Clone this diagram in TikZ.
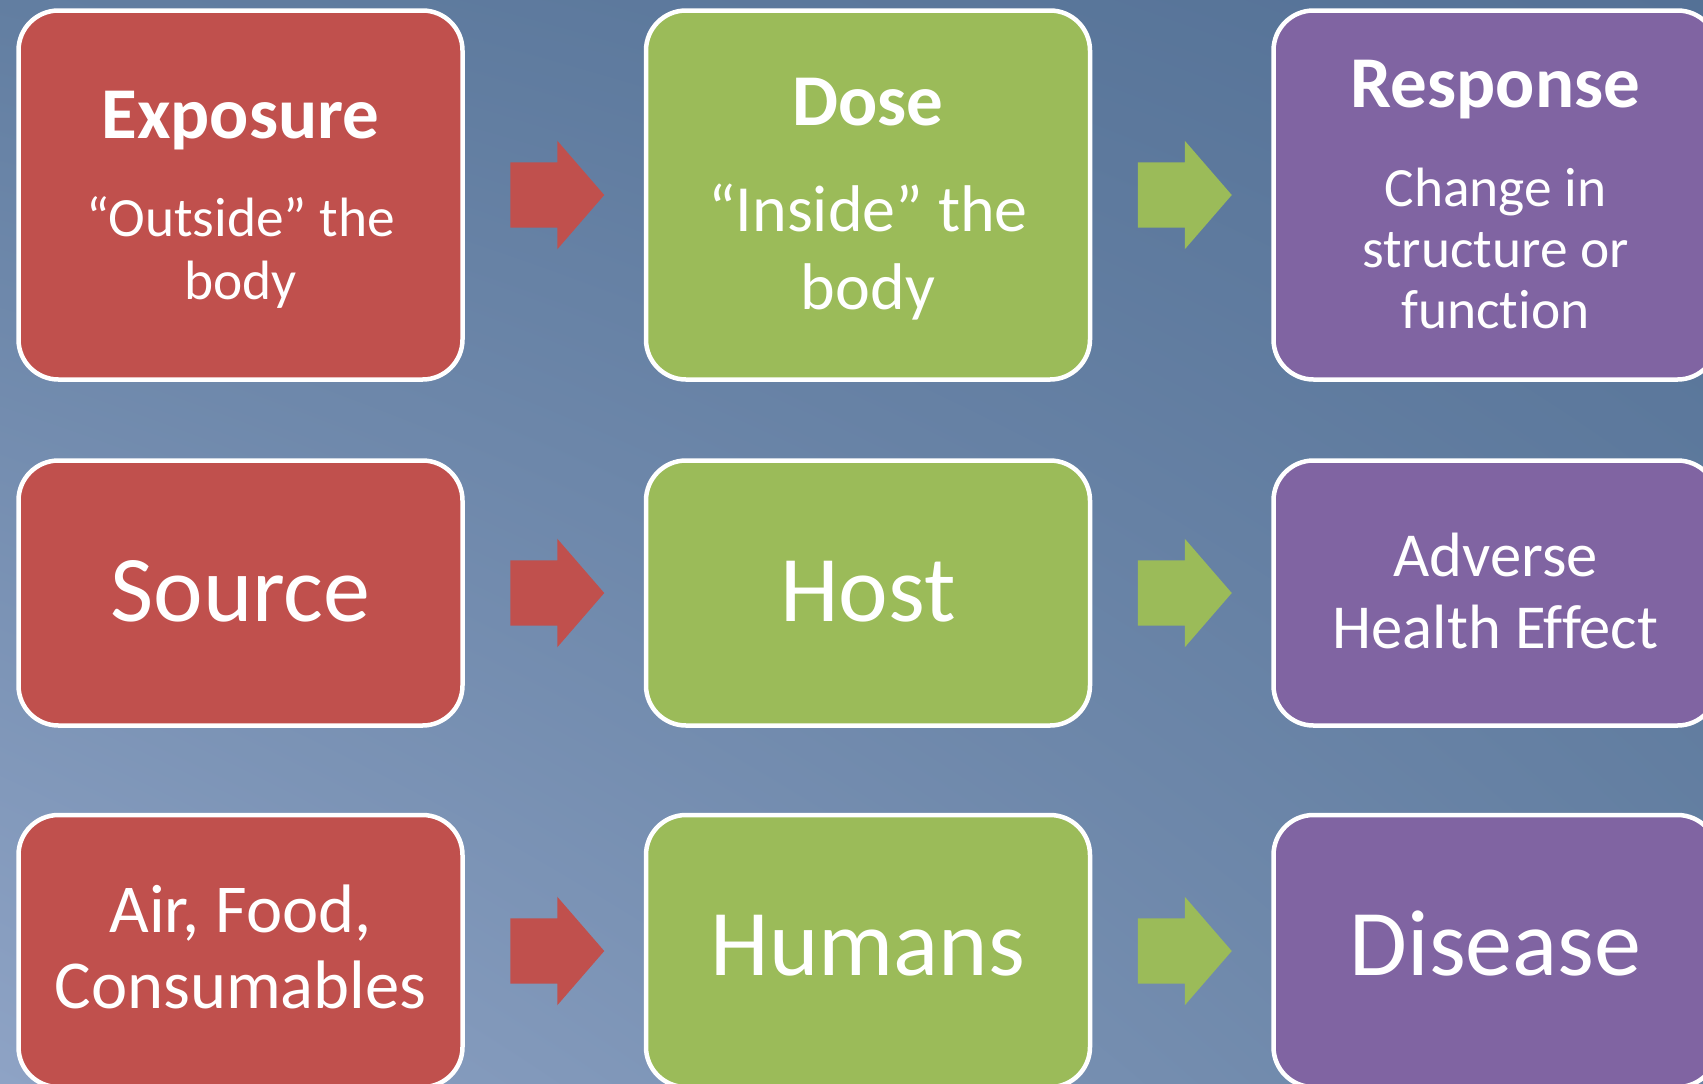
\documentclass[tikz,border=0pt]{standalone}
\usepackage{fontspec}
\setmainfont[Ligatures=NoCommon]{Carlito}
\usetikzlibrary{calc,shadings}
\definecolor{cred}{RGB}{192,80,77}
\definecolor{cgreen}{RGB}{155,187,89}
\definecolor{cpurple}{RGB}{128,100,162}
\definecolor{bgUL}{RGB}{98,126,161}
\definecolor{bgUR}{RGB}{84,113,150}
\definecolor{bgLL}{RGB}{142,163,197}
\definecolor{bgLR}{RGB}{104,131,165}
\newcommand{\fsz}[2]{\fontsize{#1}{#2}\selectfont}
\newcommand{\flowarrow}[3]{%
  \path ($(#1.east)!0.5!(#2.west)$) coordinate (#1-#2-mid);
  \fill[#3, shift={(#1-#2-mid)}] (-44,-32.6) -- (3,-32.6) -- (3,-54.3) -- (50,0)
     -- (3,54.3) -- (3,32.6) -- (-44,32.6) -- cycle;}
\begin{document}
\begin{tikzpicture}[x=0.5pt,y=-0.5pt,
  box/.style={draw=white, line width=2.25pt, rounded corners=20pt,
    minimum width=222pt, inner sep=0pt},
  row1/.style={minimum height=184.5pt},
  row2/.style={minimum height=132.5pt},
  row3/.style={minimum height=136pt},
  txt/.style={anchor=base, text=white, inner sep=0pt},
  ttl/.style={txt, font=\bfseries\fsz{36.5pt}{40pt}},
  sml/.style={txt, font=\fsz{27.7pt}{30pt}},
  mid/.style={txt, font=\fsz{33pt}{36pt}},
  big/.style={txt, font=\fsz{47pt}{50pt}},
  adv/.style={txt, font=\fsz{31.3pt}{34pt}},
  air/.style={txt, font=\fsz{34.3pt}{38pt}}]
\useasboundingbox (0,0) rectangle (1703,1083);
\clip (0,0) rectangle (1703,1083);
\shade[upper left=bgUL, upper right=bgUR, lower left=bgLL, lower right=bgLR]
  (0,0) rectangle (1703,1083);

% boxes
\node[box, row1, fill=cred]    (b11) at (240.5,195) {};
\node[box, row1, fill=cgreen]  (b12) at (868,195) {};
\node[box, row1, fill=cpurple] (b13) at (1495.5,195) {};
\node[box, row2, fill=cred]    (b21) at (240.5,593) {};
\node[box, row2, fill=cgreen]  (b22) at (868,593) {};
\node[box, row2, fill=cpurple] (b23) at (1495.5,593) {};
\node[box, row3, fill=cred]    (b31) at (240.5,951) {};
\node[box, row3, fill=cgreen]  (b32) at (868,951) {};
\node[box, row3, fill=cpurple] (b33) at (1495.5,951) {};

% arrows
\flowarrow{b11}{b12}{cred}
\flowarrow{b12}{b13}{cgreen}
\flowarrow{b21}{b22}{cred}
\flowarrow{b22}{b23}{cgreen}
\flowarrow{b31}{b32}{cred}
\flowarrow{b32}{b33}{cgreen}

% texts row 1
\node[ttl] (t11a) at ($(b11.center)+(0,-57)$) {Exposure};
\node[sml] (t11b) at ($(b11.center)+(0,41)$) {“Outside” the};
\node[sml] (t11c) at ($(b11.center)+(0,104)$) {body};
\node[ttl] (t12a) at ($(b12.center)+(0,-70)$) {Dose};
\node[mid] (t12b) at ($(b12.center)+(0,36)$) {“Inside” the};
\node[mid] (t12c) at ($(b12.center)+(0,114)$) {body};
\node[ttl] (t13a) at ($(b13.center)+(0,-88)$) {Response};
\node[sml] (t13b) at ($(b13.center)+(0,11)$) {Change in};
\node[sml] (t13c) at ($(b13.center)+(0,72)$) {structure or};
\node[sml] (t13d) at ($(b13.center)+(0,133)$) {function};

% texts row 2
\node[big] (t21) at ($(b21.center)+(0,28)$) {Source};
\node[big] (t22) at ($(b22.center)+(0,28)$) {Host};
\node[adv] (t23a) at ($(b23.center)+(0,-17)$) {Adverse};
\node[adv] (t23b) at ($(b23.center)+(0,55)$) {Health Effect};

% texts row 3
\node[air] (t31a) at ($(b31.center)+(0,-19)$) {Air, Food,};
\node[air] (t31b) at ($(b31.center)+(0,57)$) {Consumables};
\node[big] (t32) at ($(b32.center)+(0,24)$) {Humans};
\node[big] (t33) at ($(b33.center)+(0,24)$) {Disease};
\end{tikzpicture}
\end{document}
